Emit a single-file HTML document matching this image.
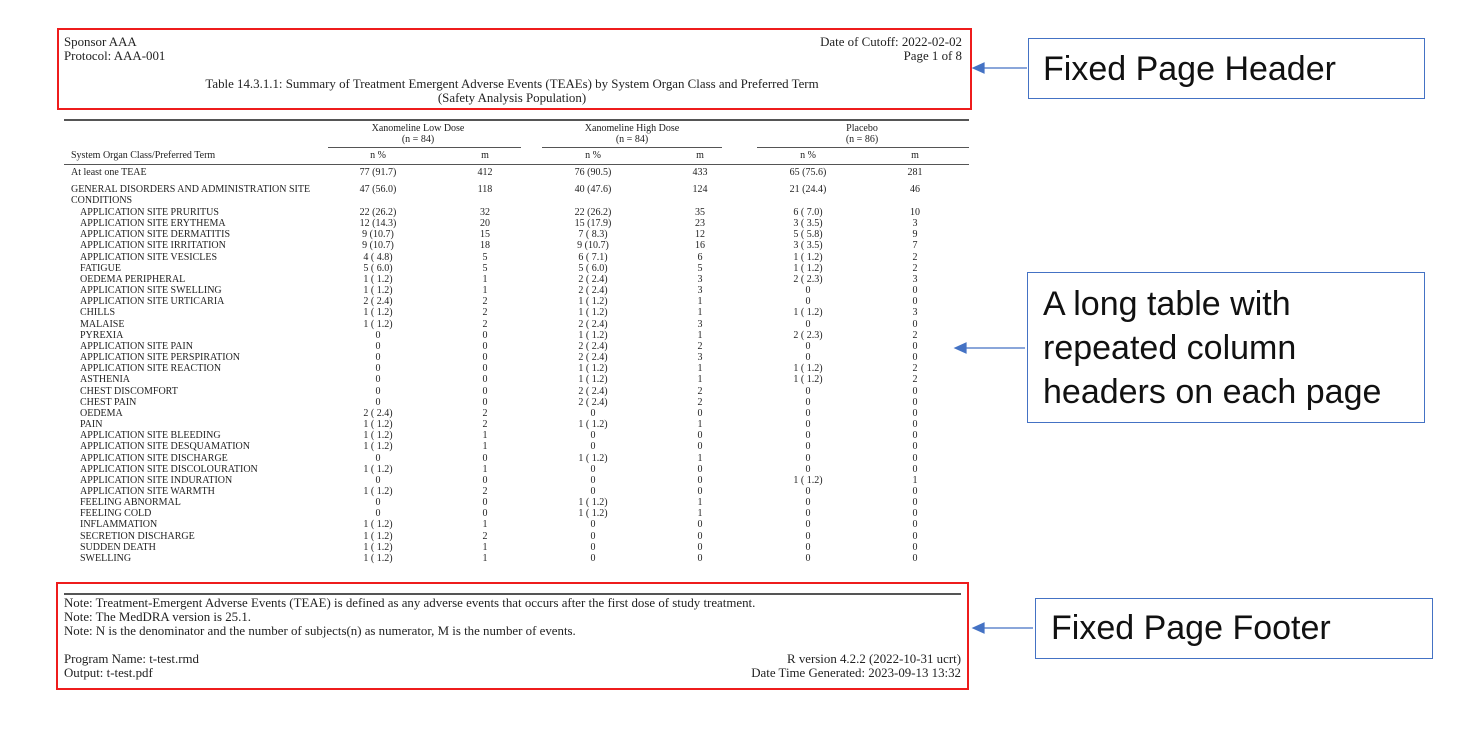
<!DOCTYPE html>
<html><head><meta charset="utf-8">
<style>
html,body{margin:0;padding:0;background:#fff;}
#page{position:relative;width:1483px;height:731px;overflow:hidden;background:#fff;font-family:"Liberation Serif",serif;color:#222;}
.t{position:absolute;white-space:nowrap;line-height:1;}
.hf{font-size:12.9px;}
.tb{font-size:10px;}
.c{transform:translateX(-50%);}
.r{transform:translateX(-100%);}
.box{position:absolute;box-sizing:border-box;}
.red{border:2px solid #ee1c1c;}
.blue{border:1.5px solid #4472c4;}
.call{font-family:"Liberation Sans",sans-serif;font-size:34px;color:#111;}
.line{position:absolute;background:#555;}
</style></head><body>
<div id="page">
  <div class="box red" style="left:57px;top:28px;width:915px;height:82px"></div>
  <div class="t hf" style="left:64px;top:36px">Sponsor AAA</div>
  <div class="t hf" style="left:64px;top:50px">Protocol: AAA-001</div>
  <div class="t hf r" style="left:962px;top:36px">Date of Cutoff: 2022-02-02</div>
  <div class="t hf r" style="left:962px;top:50px">Page 1 of 8</div>
  <div class="t hf c" style="left:512px;top:78px">Table 14.3.1.1: Summary of Treatment Emergent Adverse Events (TEAEs) by System Organ Class and Preferred Term</div>
  <div class="t hf c" style="left:512px;top:92px">(Safety Analysis Population)</div>

  <div class="line" style="left:64px;top:119px;width:905px;height:1.5px"></div>
  <div id="tbl"></div>
  <div class="line" style="left:64px;top:164px;width:905px;height:1px"></div>

  <div class="box red" style="left:56px;top:582px;width:913px;height:108px"></div>
  <div class="line" style="left:64px;top:593px;width:897px;height:1.5px"></div>
  <div class="t hf" style="left:64px;top:597px">Note: Treatment-Emergent Adverse Events (TEAE) is defined as any adverse events that occurs after the first dose of study treatment.</div>
  <div class="t hf" style="left:64px;top:611px">Note: The MedDRA version is 25.1.</div>
  <div class="t hf" style="left:64px;top:625px">Note: N is the denominator and the number of subjects(n) as numerator, M is the number of events.</div>
  <div class="t hf" style="left:64px;top:653px">Program Name: t-test.rmd</div>
  <div class="t hf" style="left:64px;top:667px">Output: t-test.pdf</div>
  <div class="t hf r" style="left:961px;top:653px">R version 4.2.2 (2022-10-31 ucrt)</div>
  <div class="t hf r" style="left:961px;top:667px">Date Time Generated: 2023-09-13 13:32</div>

  <div class="box blue" style="left:1028px;top:38px;width:397px;height:61px"></div>
  <div class="t call" style="left:1043px;top:52px">Fixed Page Header</div>
  <div class="box blue" style="left:1027px;top:272px;width:398px;height:151px"></div>
  <div class="t call" style="left:1043px;top:287px">A long table with</div>
  <div class="t call" style="left:1043px;top:331px">repeated column</div>
  <div class="t call" style="left:1043px;top:375px">headers on each page</div>
  <div class="box blue" style="left:1035px;top:598px;width:398px;height:61px"></div>
  <div class="t call" style="left:1051px;top:611px">Fixed Page Footer</div>

  <svg width="1483" height="731" style="position:absolute;left:0;top:0;pointer-events:none">
    <g stroke="#4472c4" stroke-width="1.2" fill="#4472c4">
      <line x1="1027" y1="68" x2="982" y2="68"/><polygon points="973,68 984,63 984,73"/>
      <line x1="1025" y1="348" x2="964" y2="348"/><polygon points="955,348 966,343 966,353"/>
      <line x1="1033" y1="628" x2="982" y2="628"/><polygon points="973,628 984,623 984,633"/>
    </g>
  </svg>
</div>
<script>
const groups = ["Xanomeline Low Dose","Xanomeline High Dose","Placebo"];
const groupN = ["(n = 84)","(n = 84)","(n = 86)"];
const terms = ["APPLICATION SITE PRURITUS","APPLICATION SITE ERYTHEMA","APPLICATION SITE DERMATITIS","APPLICATION SITE IRRITATION","APPLICATION SITE VESICLES","FATIGUE","OEDEMA PERIPHERAL","APPLICATION SITE SWELLING","APPLICATION SITE URTICARIA","CHILLS","MALAISE","PYREXIA","APPLICATION SITE PAIN","APPLICATION SITE PERSPIRATION","APPLICATION SITE REACTION","ASTHENIA","CHEST DISCOMFORT","CHEST PAIN","OEDEMA","PAIN","APPLICATION SITE BLEEDING","APPLICATION SITE DESQUAMATION","APPLICATION SITE DISCHARGE","APPLICATION SITE DISCOLOURATION","APPLICATION SITE INDURATION","APPLICATION SITE WARMTH","FEELING ABNORMAL","FEELING COLD","INFLAMMATION","SECRETION DISCHARGE","SUDDEN DEATH","SWELLING"];
const lowN = ["22 (26.2)","12 (14.3)","9 (10.7)","9 (10.7)","4 ( 4.8)","5 ( 6.0)","1 ( 1.2)","1 ( 1.2)","2 ( 2.4)","1 ( 1.2)","1 ( 1.2)","0","0","0","0","0","0","0","2 ( 2.4)","1 ( 1.2)","1 ( 1.2)","1 ( 1.2)","0","1 ( 1.2)","0","1 ( 1.2)","0","0","1 ( 1.2)","1 ( 1.2)","1 ( 1.2)","1 ( 1.2)"];
const lowM = ["32","20","15","18","5","5","1","1","2","2","2","0","0","0","0","0","0","0","2","2","1","1","0","1","0","2","0","0","1","2","1","1"];
const highN = ["22 (26.2)","15 (17.9)","7 ( 8.3)","9 (10.7)","6 ( 7.1)","5 ( 6.0)","2 ( 2.4)","2 ( 2.4)","1 ( 1.2)","1 ( 1.2)","2 ( 2.4)","1 ( 1.2)","2 ( 2.4)","2 ( 2.4)","1 ( 1.2)","1 ( 1.2)","2 ( 2.4)","2 ( 2.4)","0","1 ( 1.2)","0","0","1 ( 1.2)","0","0","0","1 ( 1.2)","1 ( 1.2)","0","0","0","0"];
const highM = ["35","23","12","16","6","5","3","3","1","1","3","1","2","3","1","1","2","2","0","1","0","0","1","0","0","0","1","1","0","0","0","0"];
const pboN = ["6 ( 7.0)","3 ( 3.5)","5 ( 5.8)","3 ( 3.5)","1 ( 1.2)","1 ( 1.2)","2 ( 2.3)","0","0","1 ( 1.2)","0","2 ( 2.3)","0","0","1 ( 1.2)","1 ( 1.2)","0","0","0","0","0","0","0","0","1 ( 1.2)","0","0","0","0","0","0","0"];
const pboM = ["10","3","9","7","2","2","3","0","0","3","0","2","0","0","2","2","0","0","0","0","0","0","0","0","1","0","0","0","0","0","0","0"];
const summaryRows = [["At least one TEAE","77 (91.7)","412","76 (90.5)","433","65 (75.6)","281"],["GENERAL DISORDERS AND ADMINISTRATION SITE","47 (56.0)","118","40 (47.6)","124","21 (24.4)","46"]];

const page = document.getElementById('tbl');
const colX = [378,485,593,700,808,915];
const grpX = [418,632,862];
const ulines = [[328,521],[542,722],[757,969]];
function txt(s, x, y, cls, name){
  const d = document.createElement('div');
  d.className = 't tb ' + cls;
  d.style.left = x + 'px'; d.style.top = y + 'px';
  d.textContent = s;
  
  
  page.appendChild(d);
  return d;
}
groups.forEach((g,i)=>{
  txt(g, grpX[i], 124, 'c', 'group-header');
  txt(groupN[i], grpX[i], 135, 'c', 'group-n');
  const l = document.createElement('div');
  l.className = 'line';
  l.style.cssText = 'left:'+ulines[i][0]+'px;top:147px;width:'+(ulines[i][1]-ulines[i][0])+'px;height:1px';
  
  
  page.appendChild(l);
  txt('n %', colX[i*2], 151, 'c', 'col-header-n');
  txt('m', colX[i*2+1], 151, 'c', 'col-header-m');
});
txt('System Organ Class/Preferred Term', 71, 151, '', 'col-header-term');
const sumY = [168,185];
summaryRows.forEach((r,k)=>{
  txt(r[0], 71, sumY[k], '', 'summary-row-label');
  for(let j=1;j<7;j++) txt(r[j], colX[j-1], sumY[k], 'c', 'summary-cell');
});
txt('CONDITIONS', 71, 196, '', 'soc-label-continued');
const y0 = 208, step = 11.16;
terms.forEach((t,i)=>{
  const y = y0 + i*step;
  txt(t, 80, y, '', 'term-label');
  const vals = [lowN[i],lowM[i],highN[i],highM[i],pboN[i],pboM[i]];
  vals.forEach((v,j)=> txt(v, colX[j], y, 'c', 'term-cell'));
});
</script>
</body></html>
